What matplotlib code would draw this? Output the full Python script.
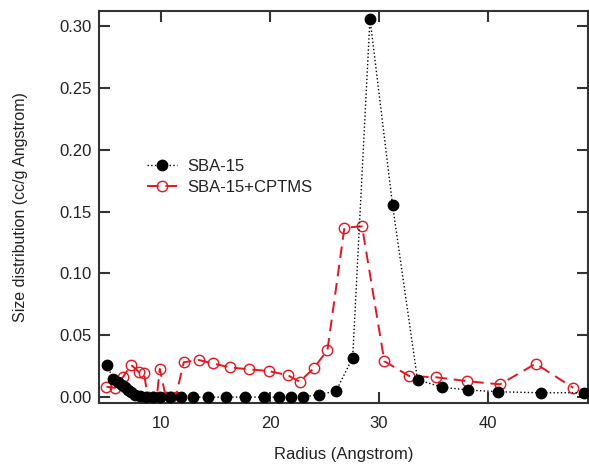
import numpy as np
import matplotlib
matplotlib.use('Agg')
import matplotlib.pyplot as plt

# Pore size distribution data
radius_sba = [4.95, 5.56, 6.02, 6.36, 6.63, 6.94, 7.18, 7.55, 8.01, 8.62, 9.23, 9.84,
              10.76, 11.83, 12.90, 14.28, 15.96, 17.64, 19.47, 20.85, 21.93, 23.05,
              24.52, 26.06, 27.58, 29.17, 31.25, 33.54, 35.83, 38.22, 40.97, 44.86, 48.83]
size_sba = [0.026, 0.015, 0.012, 0.010, 0.008, 0.006, 0.004, 0.002, 0.0005, 0.0, 0.0, 0.0,
            0.0, 0.0, 0.0, 0.0, 0.0, 0.0, 0.0, 0.0, 0.0, 0.0003,
            0.002, 0.005, 0.032, 0.306, 0.155, 0.014, 0.008, 0.0057, 0.0043, 0.0035, 0.0035]

radius_cptms = [4.94, 5.74, 6.48, 7.21, 7.96, 8.38, 8.74, 9.20, 9.57, 9.84, 10.40, 10.85,
                11.30, 12.05, 13.42, 14.73, 16.27, 18.04, 19.87, 21.59, 22.69, 24.00,
                25.26, 26.82, 28.44, 30.49, 32.78, 35.28, 38.07, 41.13, 44.40, 47.85]
size_cptms = [0.0083, 0.0075, 0.0165, 0.026, 0.020, 0.0198, 0.0, 0.0, 0.0, 0.0228, 0.0, 0.0,
              0.0, 0.0282, 0.030, 0.0272, 0.024, 0.0225, 0.021, 0.0178, 0.0124, 0.0233,
              0.038, 0.137, 0.138, 0.029, 0.017, 0.016, 0.0129, 0.0103, 0.027, 0.0075]

plt.rcParams['font.family'] = ['Liberation Sans', 'DejaVu Sans']
txt = '#222222'

fig = plt.figure(figsize=(5.89, 4.66), dpi=100)
ax = fig.add_axes([0.168, 0.135, 0.830, 0.841])

ax.plot(radius_sba, size_sba, linestyle=':', color='black', linewidth=1,
        marker='o', markersize=7.5, markerfacecolor='black', markeredgecolor='black',
        label='SBA-15', zorder=3)
ax.plot(radius_cptms, size_cptms, linestyle=(0, (6, 3.5)), color='#e8141e', linewidth=1.4,
        marker='o', markersize=7.5, markerfacecolor='none', markeredgecolor='#e8141e',
        markeredgewidth=1, label='SBA-15+CPTMS', zorder=2)

ax.set_xlim(4.25, 49.2)
ax.set_ylim(-0.00485, 0.312)
ax.set_xticks([10, 20, 30, 40])
ax.set_yticks([0.0, 0.05, 0.10, 0.15, 0.20, 0.25, 0.30])
ax.set_yticklabels(['%.2f' % v for v in [0.0, 0.05, 0.10, 0.15, 0.20, 0.25, 0.30]])

ax.tick_params(direction='in', length=8, width=1.5, color='#333333',
               top=True, right=True, labelsize=12, labelcolor=txt)
ax.tick_params(axis='x', pad=9)
ax.tick_params(axis='y', pad=5)
for s in ax.spines.values():
    s.set_linewidth(1.5)
    s.set_color('#333333')

ax.set_xlabel('Radius (Angstrom)', fontsize=12, color=txt, labelpad=12)
ax.set_ylabel('Size distribution (cc/g Angstrom)', fontsize=11.5, color=txt, labelpad=23)

ax.legend(loc='upper left', bbox_to_anchor=(0.099, 0.622), frameon=False, fontsize=12,
          handlelength=1.8, handletextpad=0.6, labelspacing=0.35, borderaxespad=0,
          borderpad=0, labelcolor=txt)

fig.savefig('out.png', dpi=100)
